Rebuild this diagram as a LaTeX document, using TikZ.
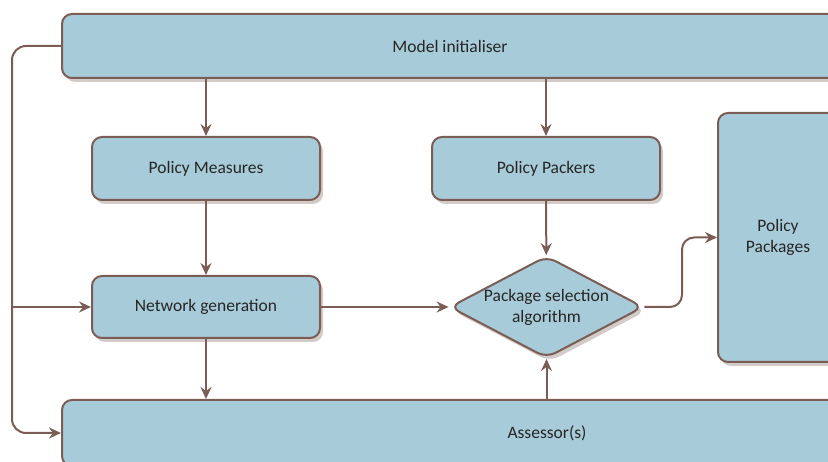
\documentclass[tikz,border=0pt]{standalone}
\usepackage{fontspec}
\setmainfont{Carlito}
\usetikzlibrary{positioning}
\usetikzlibrary{shapes.geometric}
\usetikzlibrary{shadows}
\usetikzlibrary{arrows.meta}
\definecolor{boxfill}{RGB}{168, 203, 218}
\definecolor{boxline}{RGB}{123, 93, 85}
\definecolor{shade}{RGB}{200, 190, 185}

\begin{document}
\begin{tikzpicture}[
  every node/.style={font=\fontsize{17.5}{21}\selectfont, text=black!85},
  box/.style={rectangle, rounded corners=10pt, fill=boxfill, draw=boxline, line width=2pt,
    drop shadow={shadow xshift=3pt, shadow yshift=-4pt, fill=shade, opacity=0.8}},
  choice/.style={diamond, aspect=1.9, inner sep=0pt, rounded corners=10pt, fill=boxfill, draw=boxline, line width=2pt,
    drop shadow={shadow xshift=3pt, shadow yshift=-4pt, fill=shade, opacity=0.8}},
  link/.style={draw=boxline, line width=2pt, -{Stealth[length=12pt, width=11pt, inset=4pt]}}]
\clip (0pt, 0pt) rectangle (828pt, -462pt);
\node (init) [box, minimum width=776pt, minimum height=64pt] at (450pt, -46pt) {Model initialiser};
\node (measures) [box, minimum width=228pt, minimum height=63pt] at (206pt, -168.5pt) {Policy Measures};
\node (packers) [box, minimum width=228pt, minimum height=63pt] at (546pt, -168.5pt) {Policy Packers};
\node (netgen) [box, minimum width=228pt, minimum height=62pt] at (206pt, -307pt) {Network generation};
\node (select) [choice, minimum width=181pt, minimum height=96pt, align=center] at (546.5pt, -307pt) {Package selection\\algorithm};
\node (packages) [box, minimum width=120pt, minimum height=249pt, align=center] at (778pt, -237.5pt) {Policy\\Packages};
\node (assess) [box, minimum width=970pt, minimum height=66pt] at (547pt, -433pt) {Assessor(s)};
\coordinate (split) at (12pt, -307pt);
\coordinate (turn) at (682pt, -270pt);
\draw [link] (init.south -| measures.north) to (measures.north);
\draw [link] (init.south -| packers.north) to (packers.north);
\draw [link] (measures) to (netgen);
\draw [link] (packers) to (select);
\draw [link] (netgen) to (select);
\draw [link] (netgen) to (netgen |- assess.north);
\draw [link] (assess.north -| select.south) to (select.south);
\draw [link, rounded corners=12pt] (select.east) -| (turn) |- (packages.west);
\draw [link, rounded corners=14pt] (init.west) -| (split) |- (assess.west);
\draw [link] (split) to (netgen.west);
\end{tikzpicture}
\end{document}
